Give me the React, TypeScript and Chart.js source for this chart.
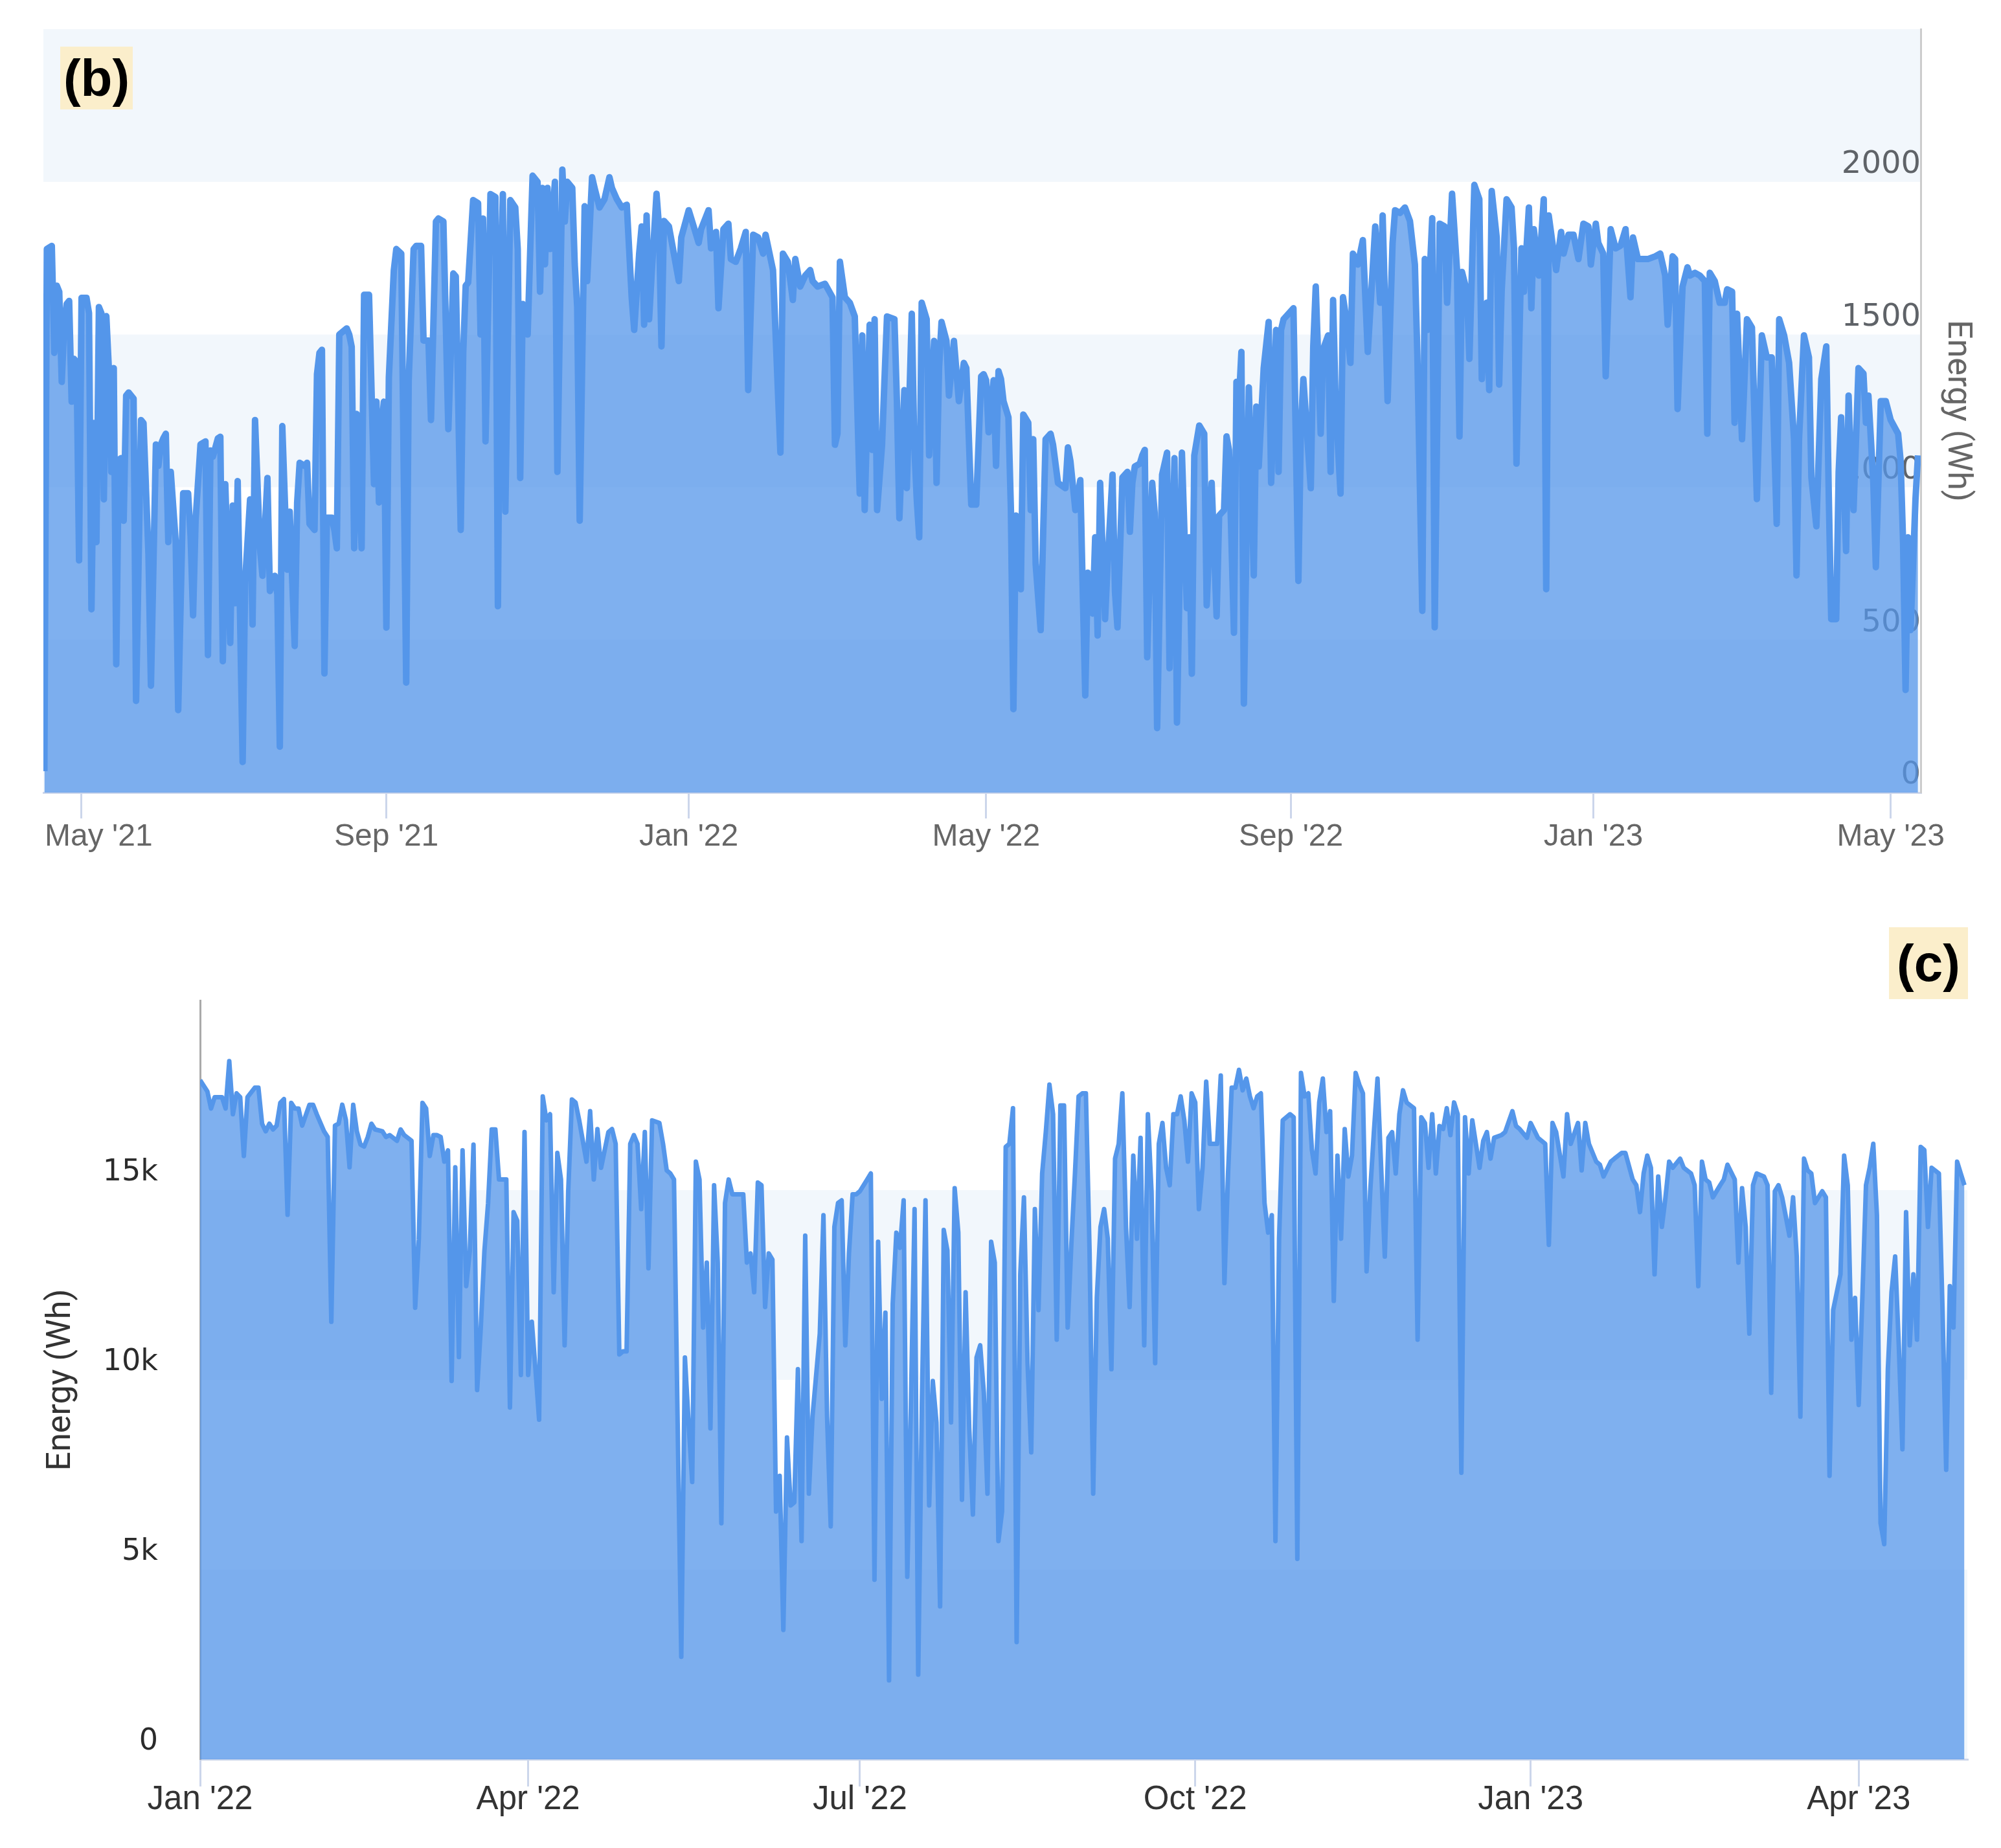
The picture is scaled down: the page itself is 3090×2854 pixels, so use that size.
import React, { useEffect, useRef } from 'react';
import { Chart, registerables } from 'chart.js';

Chart.register(...registerables);

// ---------- Panel (b): daily energy, day numbers counted from 2021-01-01 ----------
const bDays = [
  105, 106, 108, 109, 110, 111, 112, 113, 114, 115,
  116, 117, 118, 119, 120, 122, 123, 124, 125, 126,
  127, 128, 129, 130, 131, 132, 133, 134, 135, 136,
  137, 138, 139, 141, 142, 143, 144, 145, 147, 148,
  150, 151, 152, 153, 154, 155, 156, 158, 159, 161,
  163, 164, 165, 166, 168, 170, 171, 172, 173, 175,
  176, 177, 178, 180, 181, 182, 183, 185, 186, 188,
  189, 190, 192, 193, 195, 196, 198, 199, 200, 201,
  203, 204, 206, 207, 208, 210, 211, 212, 214, 215,
  216, 217, 218, 219, 221, 222, 223, 224, 227, 228,
  229, 230, 231, 233, 234, 236, 238, 239, 240, 241,
  242, 243, 244, 246, 247, 249, 251, 252, 254, 255,
  257, 258, 260, 261, 263, 264, 266, 268, 270, 271,
  273, 274, 275, 276, 278, 280, 281, 282, 283, 285,
  287, 288, 289, 290, 291, 292, 293, 295, 296, 297,
  298, 300, 301, 302, 304, 305, 306, 307, 308, 309,
  311, 312, 314, 315, 316, 318, 319, 320, 321, 323,
  324, 326, 327, 329, 331, 333, 334, 336, 338, 340,
  342, 343, 345, 346, 347, 348, 349, 350, 352, 353,
  354, 355, 357, 359, 361, 362, 365, 367, 369, 370,
  373, 374, 376, 377, 379, 381, 382, 384, 386, 388,
  389, 391, 393, 395, 396, 399, 402, 403, 405, 407,
  408, 410, 412, 414, 415, 417, 420, 423, 424, 425,
  426, 428, 430, 432, 434, 435, 436, 438, 439, 440,
  441, 443, 444, 445, 448, 449, 450, 452, 453, 455,
  456, 457, 458, 459, 461, 462, 464, 465, 466, 467,
  469, 470, 472, 474, 476, 477, 479, 481, 483, 484,
  485, 486, 488, 489, 490, 491, 492, 494, 495, 496,
  497, 499, 500, 502, 503, 504, 505, 507, 509, 511,
  512, 514, 517, 518, 519, 521, 523, 524, 525, 526,
  528, 529, 530, 531, 533, 534, 536, 537, 538, 540,
  542, 543, 544, 545, 547, 548, 549, 550, 552, 553,
  554, 556, 558, 559, 561, 562, 564, 566, 567, 568,
  569, 571, 573, 574, 576, 578, 579, 581, 582, 583,
  585, 586, 587, 588, 589, 591, 593, 594, 595, 597,
  599, 600, 602, 603, 604, 605, 607, 609, 611, 612,
  613, 616, 617, 618, 620, 621, 623, 624, 625, 626,
  628, 629, 630, 632, 633, 635, 637, 639, 642, 644,
  645, 647, 649, 650, 652, 654, 656, 658, 659, 661,
  662, 663, 665, 666, 668, 670, 671, 673, 675, 676,
  677, 679, 680, 682, 684, 685, 687, 688, 689, 691,
  692, 693, 695, 697, 698, 699, 701, 702, 704, 705,
  706, 708, 710, 711, 712, 715, 717, 718, 720, 722,
  724, 726, 728, 729, 731, 732, 734, 735, 737, 739,
  741, 743, 745, 746, 748, 750, 752, 755, 757, 759,
  760, 762, 763, 764, 766, 768, 769, 771, 773, 775,
  776, 777, 779, 781, 783, 784, 786, 787, 788, 790,
  792, 794, 796, 798, 800, 802, 804, 805, 807, 809,
  811, 812, 813, 815, 817, 818, 820, 822, 824, 825,
  826, 828, 829, 830, 832, 833, 834, 835, 837, 839,
  840, 841, 843, 844, 846, 848, 850, 853, 854, 855,
  856, 857, 858, 860, 861,
];
const bEnergy = [
  70, 1780, 1790, 1440, 1660, 1640, 1345, 1530, 1600, 1610,
  1280, 1420, 1410, 760, 1620, 1620, 1570, 600, 1210, 820,
  1590, 1570, 960, 1560, 1390, 1050, 1390, 420, 1090, 1095,
  890, 1300, 1310, 1290, 300, 750, 1220, 1210, 780, 350,
  1140, 1070, 1140, 1160, 1175, 820, 1050, 820, 270, 980,
  980, 840, 580, 890, 1140, 1150, 450, 1120, 1100, 1160,
  1165, 430, 1010, 490, 940, 620, 1020, 100, 690, 960,
  550, 1220, 800, 710, 1030, 660, 710, 650, 150, 1200,
  730, 920, 480, 950, 1080, 1070, 1080, 880, 860, 1370,
  1440, 1450, 390, 900, 900, 860, 800, 1500, 1520, 1500,
  1460, 800, 1240, 800, 1630, 1630, 1010, 1280, 950, 1200,
  1280, 540, 1360, 1710, 1780, 1765, 360, 1350, 1780, 1790,
  1790, 1480, 1480, 1220, 1870, 1880, 1870, 1190, 1700, 1690,
  860, 1440, 1660, 1670, 1940, 1930, 1500, 1880, 1150, 1960,
  1950, 610, 1630, 1960, 920, 1460, 1940, 1916, 1780, 1030,
  1600, 1500, 1765, 2020, 2000, 1640, 1980, 1730, 1980, 1780,
  2000, 1050, 2040, 1870, 2000, 1980, 1730, 1590, 890, 1920,
  1675, 2015, 1980, 1916, 1943, 2015, 1980, 1943, 1916, 1925,
  1620, 1515, 1765, 1854, 1532, 1890, 1550, 1693, 1961, 1854,
  1461, 1872, 1854, 1765, 1675, 1818, 1907, 1854, 1800, 1845,
  1907, 1782, 1836, 1586, 1845, 1863, 1747, 1738, 1782, 1836,
  1318, 1827, 1818, 1765, 1827, 1711, 1113, 1765, 1738, 1613,
  1747, 1657, 1693, 1711, 1675, 1657, 1666, 1622, 1139, 1175,
  1738, 1622, 1604, 1559, 979, 1497, 925, 1532, 1122, 1550,
  925, 1139, 1354, 1559, 1550, 1282, 898, 1318, 997, 1568,
  1139, 961, 836, 1604, 1550, 1104, 1479, 1014, 1390, 1541,
  1479, 1300, 1479, 1282, 1407, 1390, 943, 943, 1363, 1370,
  1350, 1180, 1350, 1070, 1380, 1354, 1282, 1229, 925, 273,
  907, 666, 1238, 1211, 925, 1157, 747, 532, 1157, 1175,
  1139, 1014, 997, 1130, 1086, 925, 1023, 657, 318, 720,
  586, 836, 514, 1014, 568, 747, 1041, 657, 541, 1032,
  1050, 854, 1014, 1068, 1077, 1104, 1122, 443, 1014, 916,
  211, 1041, 1113, 407, 1095, 229, 1113, 604, 836, 389,
  1104, 1202, 1175, 613, 1014, 577, 907, 925, 1166, 1122,
  523, 1345, 1282, 1443, 291, 1327, 711, 1264, 1068, 1390,
  1541, 1014, 1515, 1050, 1515, 1550, 1568, 1586, 693, 1193,
  1354, 997, 1461, 1657, 1175, 1452, 1497, 1050, 1613, 1282,
  979, 1622, 1568, 1407, 1765, 1729, 1809, 1443, 1854, 1604,
  1890, 1282, 1800, 1907, 1898, 1916, 1872, 1729, 1434, 595,
  1747, 1515, 1881, 541, 1863, 1854, 1604, 1961, 1711, 1166,
  1705, 1640, 1420, 1990, 1943, 1354, 1604, 1318, 1970, 1818,
  1336, 1640, 1943, 1916, 1782, 1077, 1782, 1640, 1916, 1586,
  1845, 1693, 1943, 666, 1890, 1711, 1836, 1765, 1827, 1827,
  1747, 1863, 1854, 1729, 1863, 1800, 1765, 1363, 1845, 1782,
  1791, 1845, 1622, 1818, 1747, 1747, 1747, 1756, 1765, 1693,
  1532, 1756, 1747, 1256, 1657, 1720, 1693, 1702, 1693, 1675,
  1175, 1702, 1675, 1604, 1604, 1648, 1640, 1211, 1568, 1157,
  1550, 1523, 961, 1497, 1425, 1425, 880, 1550, 1497, 1407,
  1157, 711, 1157, 1497, 1425, 1032, 872, 1354, 1461, 979,
  568, 568, 1050, 1229, 791, 1300, 1050, 925, 1390, 1372,
  1211, 1300, 1014, 738, 1282, 1282, 1220, 1175, 1086, 818,
  336, 836, 532, 961, 1104,
];
const bTickDays = [120, 243, 365, 485, 608, 730, 850];
const bTickLabels = ["May '21", "Sep '21", "Jan '22", "May '22", "Sep '22", "Jan '23", "May '23"];
const bBands = [[0, 500], [1000, 1500], [2000, 2500]];

// ---------- Panel (c): daily energy, day numbers counted from 2022-01-01 ----------
const cDays = [
  0, 2, 3, 4, 6, 7, 8, 9, 10, 11,
  12, 13, 15, 16, 17, 18, 19, 20, 21, 22,
  23, 24, 25, 26, 27, 28, 30, 31, 32, 34,
  35, 36, 37, 38, 39, 40, 41, 42, 43, 44,
  45, 46, 47, 48, 50, 51, 52, 54, 55, 56,
  58, 59, 60, 61, 62, 63, 64, 65, 66, 67,
  68, 69, 70, 71, 72, 73, 74, 75, 76, 77,
  78, 79, 80, 81, 82, 84, 85, 86, 87, 88,
  89, 90, 91, 92, 93, 94, 95, 96, 97, 98,
  99, 100, 101, 102, 103, 104, 106, 107, 108, 109,
  110, 112, 113, 114, 115, 116, 117, 118, 119, 120,
  121, 122, 123, 124, 126, 127, 128, 129, 130, 131,
  132, 133, 134, 135, 136, 137, 138, 139, 140, 141,
  142, 143, 144, 145, 146, 148, 149, 150, 151, 152,
  153, 154, 155, 156, 157, 158, 159, 160, 161, 162,
  163, 164, 165, 166, 167, 168, 170, 171, 172, 173,
  174, 175, 176, 177, 178, 179, 180, 181, 183, 184,
  185, 186, 187, 188, 189, 190, 191, 192, 193, 194,
  195, 196, 197, 198, 199, 200, 201, 202, 203, 204,
  205, 206, 207, 208, 209, 210, 211, 212, 213, 214,
  215, 216, 217, 218, 219, 220, 221, 222, 223, 224,
  225, 226, 227, 228, 229, 230, 231, 232, 233, 234,
  235, 236, 237, 238, 239, 240, 241, 242, 243, 244,
  245, 246, 247, 248, 249, 250, 251, 252, 253, 254,
  255, 256, 257, 258, 259, 260, 261, 262, 263, 264,
  265, 266, 267, 268, 269, 270, 271, 272, 273, 274,
  275, 276, 277, 278, 279, 280, 281, 282, 283, 284,
  285, 286, 287, 288, 289, 290, 291, 292, 293, 294,
  295, 296, 297, 298, 299, 300, 301, 302, 303, 304,
  305, 306, 307, 308, 309, 310, 311, 312, 313, 314,
  315, 316, 317, 318, 319, 320, 321, 322, 323, 324,
  325, 326, 327, 328, 329, 330, 331, 333, 334, 335,
  336, 337, 338, 339, 340, 341, 342, 343, 344, 345,
  346, 347, 348, 349, 351, 352, 353, 354, 355, 357,
  358, 360, 361, 362, 364, 365, 367, 369, 370, 371,
  372, 374, 375, 376, 378, 379, 380, 381, 383, 384,
  385, 387, 388, 390, 391, 393, 394, 395, 396, 397,
  398, 399, 400, 401, 402, 403, 404, 406, 407, 409,
  410, 411, 412, 413, 414, 415, 417, 418, 419, 421,
  422, 423, 424, 425, 426, 427, 429, 430, 431, 432,
  433, 434, 436, 437, 438, 439, 440, 441, 442, 443,
  445, 446, 447, 448, 449, 450, 451, 452, 453, 454,
  455, 456, 457, 458, 459, 460, 461, 462, 463, 464,
  465, 466, 467, 468, 469, 470, 471, 472, 473, 474,
  475, 477, 478, 479, 480, 481, 482, 483, 484,
];
const cEnergy = [
  17900, 17600, 17150, 17450, 17450, 17150, 18400, 17000, 17550, 17450,
  15900, 17450, 17700, 17700, 16750, 16550, 16750, 16600, 16700, 17300,
  17400, 14350, 17300, 17150, 17150, 16700, 17250, 17250, 17000, 16550,
  16400, 11530, 16700, 16750, 17250, 16850, 15600, 17250, 16550, 16200,
  16150, 16400, 16750, 16600, 16550, 16400, 16450, 16300, 16600, 16450,
  16300, 11900, 13700, 17300, 17150, 15900, 16450, 16450, 16400, 15750,
  16050, 9970, 15600, 10600, 16050, 12470, 13400, 16200, 9730, 11380,
  13400, 14650, 16600, 16600, 15280, 15280, 9270, 14420, 14190, 10130,
  16530, 10130, 11530, 10280, 8950, 17470, 16840, 17000, 12310, 15980,
  15280, 10910, 15000, 17390, 17310, 16840, 15750, 17080, 15280, 16610,
  15590, 16530, 16610, 16220, 10670, 10750, 10750, 16220, 16450, 16220,
  14500, 16530, 12940, 16840, 16770, 16220, 15520, 15440, 15280, 8880,
  2700, 10590, 8880, 7310, 15750, 15280, 11380, 13090, 8720, 15130,
  13090, 6220, 14660, 15280, 14890, 14890, 14890, 13090, 13330, 12310,
  15200, 15130, 11920, 13330, 13170, 6530, 7470, 3410, 8480, 6690,
  6770, 10280, 5750, 13800, 7000, 9030, 11220, 14340, 9030, 6140,
  14030, 14660, 14730, 10910, 13330, 14890, 14890, 14970, 15280, 15440,
  4730, 13640, 9500, 11770, 2080, 12000, 13880, 13480, 14730, 4810,
  9340, 14500, 2230, 9340, 14730, 6690, 9970, 8880, 4030, 13950,
  13410, 8880, 15050, 13880, 6840, 12310, 8720, 6450, 10590, 10910,
  9660, 7000, 13640, 13090, 5750, 6530, 16140, 16220, 17160, 3090,
  12780, 14810, 10440, 8090, 14500, 11840, 15440, 16530, 17780, 17000,
  11060, 17230, 17230, 11380, 13560, 15440, 17470, 17550, 17550, 13410,
  7000, 12160, 14030, 14500, 13720, 10280, 15830, 16220, 17550, 14030,
  11920, 15910, 13720, 16380, 10910, 17000, 14970, 10440, 16220, 16770,
  15590, 15130, 17000, 17000, 17470, 16840, 15750, 17550, 17310, 14500,
  15590, 17860, 16220, 16220, 16220, 18020, 12550, 15440, 17700, 17700,
  18170, 17630, 17940, 17470, 17160, 17470, 17550, 14660, 13880, 14340,
  5750, 13720, 16840, 16920, 17000, 16920, 5280, 18090, 17470, 17550,
  16060, 15440, 17310, 17940, 16530, 17080, 12080, 15910, 13720, 16610,
  15360, 15910, 18090, 17780, 17550, 12860, 14970, 16530, 17940, 15590,
  13250, 16380, 16530, 15440, 17000, 17630, 17310, 17160, 11060, 16920,
  16770, 15590, 17000, 15440, 16690, 16610, 17160, 16450, 17310, 17000,
  7550, 16920, 15440, 16840, 15590, 16300, 16530, 15830, 16380, 16450,
  16530, 17080, 16690, 16610, 16380, 16770, 16380, 16220, 13560, 16770,
  16530, 15360, 17000, 16220, 16770, 15520, 16770, 16220, 15750, 15670,
  15360, 15750, 15830, 15980, 15980, 15280, 15130, 14420, 15440, 15910,
  15590, 12780, 15360, 14030, 14810, 15750, 15590, 15830, 15590, 15440,
  15130, 12470, 15750, 15280, 15200, 14810, 15130, 15280, 15670, 15280,
  13090, 15050, 14030, 11220, 15130, 15440, 15360, 15130, 9660, 14970,
  15130, 14810, 13800, 14810, 13250, 9030, 15830, 15520, 15440, 14660,
  14970, 14810, 7470, 11840, 12310, 12780, 15910, 15130, 11060, 12160,
  9340, 12160, 15130, 15590, 16220, 14340, 6220, 5670, 10280, 12310,
  13250, 10910, 8170, 14420, 10910, 12780, 11060, 16140, 16060, 14030,
  15590, 15440, 11840, 7630, 12470, 11380, 15750, 15440, 15130,
];
const cTickDays = [0, 90, 181, 273, 365, 455];
const cTickLabels = ["Jan '22", "Apr '22", "Jul '22", "Oct '22", "Jan '23", "Apr '23"];
const cBands = [[0, 5000], [10000, 15000]];

const LINE = 'rgb(84,150,234)';
const FILL = 'rgba(84,150,234,0.75)';
const BAND = '#f2f7fc';

function bandsPlugin(bands: number[][]) {
  return {
    id: 'bands',
    beforeDraw(chart: any) {
      const { ctx, chartArea, scales } = chart;
      const y = scales.y;
      ctx.save();
      ctx.fillStyle = BAND;
      for (const [lo, hi] of bands) {
        const t = y.getPixelForValue(hi);
        const b = y.getPixelForValue(lo);
        ctx.fillRect(chartArea.left, t, chartArea.right - chartArea.left, b - t);
      }
      ctx.restore();
    },
  };
}

function xLabelsPlugin(ticks: number[], labels: string[], font: string, color: string, offset: number, clampLeft: boolean) {
  return {
    id: 'xlabels',
    afterDraw(chart: any) {
      const { ctx, chartArea, scales } = chart;
      const x = scales.x;
      ctx.save();
      ctx.font = font;
      ctx.fillStyle = color;
      ctx.textBaseline = 'middle';
      ctx.textAlign = 'left';
      ticks.forEach((d, i) => {
        const w = ctx.measureText(labels[i]).width;
        let left = x.getPixelForValue(d) - w / 2;
        if (clampLeft && left < chartArea.left + 2) left = chartArea.left + 2;
        if (left + w > chart.width) left = chart.width - w;
        ctx.fillText(labels[i], left, chartArea.bottom + offset);
      });
      ctx.restore();
    },
  };
}

function topConfig(): any {
  return {
    type: 'line',
    data: {
      datasets: [{
        data: bDays.map((d, i) => ({ x: d, y: bEnergy[i] })),
        borderColor: LINE, backgroundColor: FILL, borderWidth: 10,
        fill: 'origin', pointRadius: 0, tension: 0, borderJoinStyle: 'round',
      }],
    },
    options: {
      responsive: false, animation: false, devicePixelRatio: 1, events: [],
      layout: { padding: { left: 67, right: 40, top: 45, bottom: 56 } },
      plugins: { legend: { display: false }, tooltip: { enabled: false } },
      scales: {
        x: {
          type: 'linear', min: 104.6, max: 862.1, z: 1,
          afterBuildTicks: (s: any) => { s.ticks = bTickDays.map((v) => ({ value: v })); },
          ticks: { display: false, autoSkip: false },
          grid: { display: true, drawOnChartArea: false, drawTicks: true, tickLength: 40, color: '#ccd6eb', lineWidth: 3 },
          border: { display: true, color: '#ccd6eb', width: 3 },
          afterFit: (s: any) => { s.height = 120; },
        },
        y: {
          position: 'right', min: 0, max: 2500, z: 1,
          ticks: {
            stepSize: 500, mirror: true, padding: 0, labelOffset: -26,
            font: { family: 'DejaVu Sans', size: 48 }, color: '#5f6368',
            callback: (v: any) => (v === 2500 ? '' : String(v)),
          },
          grid: { display: false, drawTicks: false },
          border: { display: true, color: '#cccccc', width: 3 },
          title: { display: true, text: 'Energy (Wh)', color: '#666', padding: 0, font: { family: 'Roboto', size: 52, lineHeight: 1.08 } },
          afterFit: (s: any) => { s.width = 84; },
        },
      },
    },
    plugins: [bandsPlugin(bBands), xLabelsPlugin(bTickDays, bTickLabels, '48px "Liberation Sans"', '#666', 69, true)],
  };
}

function bottomConfig(): any {
  return {
    type: 'line',
    data: {
      datasets: [{
        data: cDays.map((d, i) => ({ x: d, y: cEnergy[i] })),
        borderColor: LINE, backgroundColor: FILL, borderWidth: 7,
        fill: 'origin', pointRadius: 0, tension: 0, borderJoinStyle: 'round',
      }],
    },
    options: {
      responsive: false, animation: false, devicePixelRatio: 1, events: [],
      layout: { padding: { left: 40, right: 52, top: 145, bottom: 17 } },
      plugins: { legend: { display: false }, tooltip: { enabled: false } },
      scales: {
        x: {
          type: 'linear', min: 0, max: 484.8, z: 1,
          afterBuildTicks: (s: any) => { s.ticks = cTickDays.map((v) => ({ value: v })); },
          ticks: { display: false, autoSkip: false },
          grid: { display: true, drawOnChartArea: false, drawTicks: true, tickLength: 42, color: '#ccd6eb', lineWidth: 3 },
          border: { display: true, color: '#ccd6eb', width: 3 },
          afterFit: (s: any) => { s.height = 120; },
        },
        y: {
          position: 'left', min: 0, max: 20000, z: 1,
          ticks: {
            stepSize: 5000, padding: 65, labelOffset: -27,
            font: { family: 'DejaVu Sans', size: 46 }, color: '#2b2b2b',
            callback: (v: any) => (v === 20000 ? '' : v === 0 ? '0' : v / 1000 + 'k'),
          },
          grid: { display: false, drawTicks: false },
          border: { display: true, color: '#aaaaaa', width: 3 },
          title: { display: true, text: 'Energy (Wh)', color: '#333', padding: { top: 26, bottom: 0 }, font: { family: 'Roboto', size: 52, lineHeight: 1.1 } },
          afterFit: (s: any) => { s.width = 269; },
        },
      },
    },
    plugins: [bandsPlugin(cBands), xLabelsPlugin(cTickDays, cTickLabels, '51px "Liberation Sans"', '#333', 63, false)],
  };
}

function ChartCanvas({ left, top, width, height, make }: any) {
  const ref = useRef<HTMLCanvasElement>(null);
  useEffect(() => {
    const chart = new Chart(ref.current as HTMLCanvasElement, make());
    return () => chart.destroy();
  }, []);
  return (
    <canvas
      ref={ref}
      width={width}
      height={height}
      style={{ position: 'absolute', left, top, width, height, display: 'block' }}
    />
  );
}

const tagStyle: any = {
  position: 'absolute',
  background: '#fbeecb',
  color: '#000',
  fontFamily: '"Liberation Sans", Arial, sans-serif',
  fontWeight: 'bold',
  fontSize: 80,
  lineHeight: 1,
  display: 'flex',
  alignItems: 'center',
  justifyContent: 'center',
};

export default function App() {
  return (
    <div style={{ position: 'absolute', left: 0, top: 0, width: 3090, height: 2854, background: '#fff', overflow: 'hidden' }}>
      <ChartCanvas left={0} top={0} width={3090} height={1400} make={topConfig} />
      <ChartCanvas left={0} top={1400} width={3090} height={1454} make={bottomConfig} />
      <div style={{ ...tagStyle, left: 93, top: 72, width: 112, height: 97 }}>(b)</div>
      <div style={{ ...tagStyle, left: 2917, top: 1432, width: 122, height: 111 }}>(c)</div>
    </div>
  );
}
